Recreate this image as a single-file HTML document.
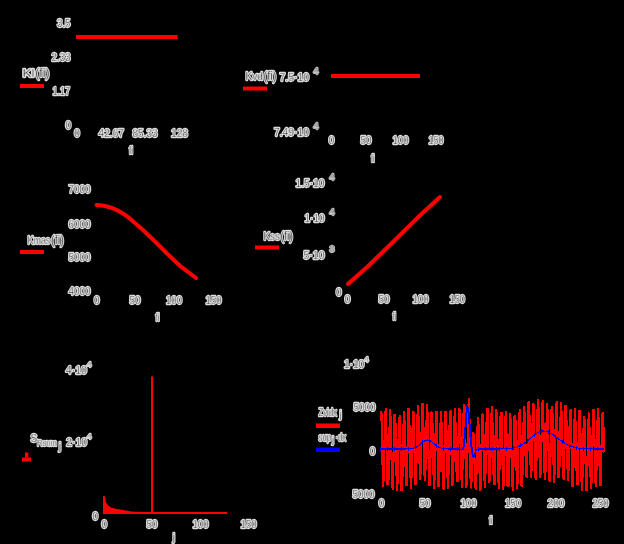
<!DOCTYPE html>
<html><head><meta charset="utf-8"><title>plots</title>
<style>
html,body{margin:0;padding:0;background:#000;}
body{width:624px;height:544px;overflow:hidden;position:relative;font-family:"Liberation Sans",sans-serif;}
svg{position:absolute;left:0;top:0;display:block}
g.tx{filter:grayscale(1)}
text{font-family:"Liberation Sans",sans-serif}
g.ha text{fill:#dcdcdc;stroke:#dcdcdc;stroke-width:2.3px;stroke-linejoin:round}
g.fg text{fill:#000;stroke:#dcdcdc;stroke-width:0.4px}
.r{stroke:#f00;fill:none}
.b{stroke:#00f;fill:none}
</style></head><body>
<svg width="624" height="544" viewBox="0 0 624 544">
<rect width="624" height="544" fill="#000"/>
<rect x="20" y="84" width="24" height="4" fill="#f00"/>
<rect x="76" y="35" width="101.5" height="4" fill="#f00"/>
<rect x="243" y="86.5" width="24" height="4" fill="#f00"/>
<rect x="331" y="74" width="89" height="4" fill="#f00"/>
<rect x="20" y="250" width="24" height="4" fill="#f00"/>
<path class="r" d="M96.5,205 L100,205.2 L105,206 L111,207.6 L117.5,210.3 L124,214.2 L130,218.7 L142.5,229.5 L155,241.5 L167.5,254 L180,265.8 L196,278" stroke-width="4.0" stroke-linecap="round" stroke-linejoin="round"/>
<rect x="255" y="245.5" width="24" height="4" fill="#f00"/>
<path class="r" d="M348,284 L357,276 L367.5,266.8 L394,241 L417.5,217.8 L440,197" stroke-width="4.0" stroke-linecap="round" stroke-linejoin="round"/>
<rect x="22" y="457.5" width="9" height="4" fill="#f00"/>
<rect x="25" y="452.5" width="3.4" height="5" fill="#f00"/>
<rect x="151" y="376.5" width="2" height="137.5" fill="#f00"/>
<rect x="103" y="512" width="124" height="2" fill="#f00"/>
<path fill="#f00" d="M103,513 L103,496 L104.9,496 L105.4,500 L106.2,502.8 L108.7,506 L112,508 L118.4,509.3 L126,510.6 L131,511.6 L150,512.3 L150,513 Z"/>
<rect x="316" y="423.5" width="24" height="4.5" fill="#f00"/>
<rect x="316" y="447.5" width="24" height="4.5" fill="#00f"/>
<path class="r" d="M380.5,414.09 L381.38,410.76 L382.25,452.3 L383.13,486.55 L384.01,471.25 L384.88,424.87 L385.76,407.57 L386.64,440.91 L387.51,484.68 L388.39,483.01 L389.26,438.13 L390.14,408.57 L391.02,429.45 L391.89,476.82 L392.77,490.17 L393.65,453.56 L394.52,413.85 L395.4,421.36 L396.28,466.69 L397.15,491.3 L398.03,467.69 L398.91,422.93 L399.78,414.87 L400.66,453.81 L401.54,490.57 L402.41,478.34 L403.29,431.91 L404.16,410.58 L405.04,438.99 L405.92,483.56 L406.79,485.93 L407.67,442.08 L408.55,407.73 L409.42,424.67 L410.3,472.04 L411.18,488.51 L412.05,454.42 L412.93,411.33 L413.81,413.64 L414.68,457.45 L415.56,485.01 L416.44,463.64 L417.31,417.62 L418.19,405.24 L419.06,440.97 L419.94,479.77 L420.82,472.17 L421.69,427.12 L422.57,402.94 L423.45,427.74 L424.32,473.68 L425.2,481.3 L426.08,440.9 L426.95,403.91 L427.83,417.61 L428.71,465.36 L429.58,486.21 L430.46,456.81 L431.34,412.97 L432.21,411.97 L433.09,455.53 L433.96,488.7 L434.84,472.04 L435.72,426.13 L436.59,410.81 L437.47,445.12 L438.35,486.89 L439.22,483.66 L440.1,439.31 L440.98,410.82 L441.85,431.85 L442.73,478.28 L443.61,489.66 L444.48,451.02 L445.36,410.65 L446.24,419.15 L447.11,465.18 L447.99,488.58 L448.86,462.35 L449.74,416.79 L450.62,410.53 L451.49,450.59 L452.37,485.82 L453.25,471.84 L454.12,426.49 L455.0,407.8 L455.88,437.01 L456.75,479.97 L457.63,481.52 L458.51,439.61 L459.38,408.28 L460.26,426.12 L461.14,472.28 L462.01,487.5 L462.89,451.16 L463.76,404.61 L464.64,406.37 L465.52,456.35 L466.39,487.5 L467.27,462.46 L468.15,410.03 L469.02,398.06 L469.9,443.01 L470.78,488.43 L471.65,479.27 L472.53,442.39 L473.41,431.96 L474.28,452.32 L475.16,485.7 L476.04,489.82 L476.91,457.53 L477.79,416.61 L478.66,426.75 L479.54,472.26 L480.42,490.72 L481.29,459.11 L482.17,414.57 L483.05,413.82 L483.92,457.15 L484.8,488.03 L485.68,469.03 L486.55,422.51 L487.43,407.8 L488.31,442.62 L489.18,482.84 L490.06,477.41 L490.94,432.71 L491.81,405.89 L492.69,428.77 L493.56,475.08 L494.44,485.16 L495.32,446.94 L496.19,408.84 L497.07,419.47 L497.95,466.29 L498.82,489.33 L499.7,461.86 L500.58,416.03 L501.45,411.83 L502.33,454.47 L503.21,490.24 L504.08,475.1 L504.96,428.58 L505.84,410.95 L506.71,442.89 L507.59,485.97 L508.46,485.45 L509.34,442.74 L510.22,413.5 L511.09,431.89 L511.97,477.1 L512.85,490.79 L513.72,455.21 L514.6,415.11 L515.48,420.4 L516.35,464.11 L517.23,489.25 L518.11,465.78 L518.98,419.31 L519.86,409.51 L520.74,448.92 L521.61,486.71 L522.49,474.54 L523.36,427.63 L524.24,405.76 L525.12,432.26 L525.99,475.34 L526.87,478.13 L527.75,436.02 L528.62,401.42 L529.5,416.32 L530.38,461.19 L531.25,478.4 L532.13,446.45 L533.01,403.51 L533.88,404.98 L534.76,449.27 L535.64,479.48 L536.51,459.58 L537.39,412.34 L538.26,398.99 L539.14,436.63 L540.02,478.11 L540.89,471.38 L541.77,425.34 L542.65,400.26 L543.52,425.09 L544.4,471.46 L545.28,479.87 L546.15,440.55 L547.03,403.24 L547.91,415.16 L548.78,461.41 L549.66,482.34 L550.54,453.96 L551.41,409.45 L552.29,406.35 L553.16,448.69 L554.04,482.5 L554.92,465.88 L555.79,418.57 L556.67,401.5 L557.55,434.96 L558.42,477.67 L559.3,475.04 L560.18,430.59 L561.05,401.79 L561.93,422.19 L562.81,467.89 L563.68,480.23 L564.56,443.9 L565.44,405.33 L566.31,413.36 L567.19,457.76 L568.06,481.4 L568.94,458.26 L569.82,415.52 L570.69,408.84 L571.57,448.78 L572.45,486.61 L573.32,474.49 L574.2,428.24 L575.08,408.13 L575.95,437.8 L576.83,482.73 L577.71,485.29 L578.58,442.61 L579.46,409.84 L580.34,427.6 L581.21,474.97 L582.09,491.3 L582.96,457.72 L583.84,416.34 L584.72,419.92 L585.59,463.71 L586.47,491.19 L587.35,470.43 L588.22,424.6 L589.1,412.57 L589.98,449.6 L590.85,488.87 L591.73,480.27 L592.61,433.81 L593.48,409.2 L594.36,434.64 L595.24,480.6 L596.11,486.66 L596.99,445.01 L597.86,408.07 L598.74,421.59 L599.62,467.25 L600.49,485.63 L601.37,455.94 L602.25,413.71 L603.12,412.45 L604.0,452.51" stroke-width="2.15" stroke-linejoin="miter" stroke-miterlimit="1" shape-rendering="crispEdges"/>
<clipPath id="cb"><polygon points="378,434.5 380,434.5 382,434.7 384,435.5 386,436.2 388,436.5 390,437.2 392,438.2 394,439.2 396,440.1 398,440.9 400,440.4 402,439.8 404,439.0 406,437.8 408,436.7 410,436.3 412,435.7 414,434.9 416,433.5 418,431.9 420,431.2 422,430.9 424,431.0 426,431.6 428,432.6 430,433.7 432,435.4 434,437.0 436,438.4 438,439.6 440,439.5 442,438.6 444,437.9 446,437.1 448,436.2 450,435.8 452,435.4 454,435.0 456,435.1 458,435.7 460,436.2 462,435.5 464,430.7 466,428.4 468,428.6 470,430.3 472,440.4 474,453.4 476,455.1 478,441.0 480,438.7 482,437.4 484,436.2 486,435.8 488,435.5 490,434.6 492,434.0 494,434.7 496,435.7 498,436.3 500,436.6 502,437.3 504,438.2 506,439.1 508,440.0 510,440.8 512,440.5 514,439.9 516,438.9 518,437.5 520,436.2 522,435.1 524,433.7 526,431.7 528,429.7 530,428.0 532,427.1 534,426.9 536,427.0 538,427.3 540,427.8 542,428.4 544,429.5 546,430.5 548,430.5 550,430.6 552,430.5 554,430.2 556,430.0 558,429.9 560,429.8 562,429.8 564,430.0 566,430.9 568,432.0 570,433.4 572,435.0 574,436.1 576,436.7 578,437.5 580,438.6 582,439.5 584,440.2 586,440.9 588,440.1 590,439.3 592,438.4 594,437.6 596,436.5 598,436.0 600,435.4 602,434.6 604,434.1 606,434.1 606,456.2 604,456.2 602,457.2 600,458.6 598,459.8 596,460.7 594,461.7 592,462.3 590,462.9 588,463.4 586,463.9 584,463.5 582,463.2 580,462.6 578,461.5 576,460.7 574,459.9 572,458.5 570,456.2 568,454.6 566,453.8 564,453.2 562,453.2 560,453.5 558,453.9 556,454.0 554,454.1 552,454.2 550,454.3 548,454.2 546,454.0 544,453.3 542,452.5 540,452.0 538,451.4 536,451.0 534,450.7 532,450.6 530,451.1 528,453.0 526,455.1 524,457.2 522,459.0 520,460.2 518,461.1 516,462.1 514,463.0 512,463.5 510,463.8 508,463.4 506,462.8 504,462.1 502,461.4 500,460.8 498,460.3 496,459.4 494,458.4 492,457.7 490,457.9 488,458.8 486,459.3 484,460.1 482,461.4 480,462.6 478,464.2 476,471.9 474,470.9 472,463.7 470,457.3 468,455.5 466,455.4 464,456.7 462,459.3 460,459.7 458,459.1 456,458.1 454,457.8 452,458.6 450,459.5 448,460.2 446,461.1 444,461.9 442,462.5 440,463.1 438,462.9 436,461.9 434,460.6 432,459.2 430,457.8 428,456.7 426,455.7 424,454.8 422,454.4 420,454.3 418,454.7 416,456.8 414,458.7 412,459.7 410,460.5 408,461.0 406,461.9 404,462.8 402,463.3 400,463.6 398,463.9 396,463.5 394,462.8 392,462.1 390,461.3 388,460.8 386,460.2 384,459.1 382,458.0 380,457.8 378,457.8"/></clipPath>
<path class="b" d="M380.5,449.0 L381.38,449.0 L382.25,449.0 L383.13,449.0 L384.01,449.0 L384.88,449.0 L385.76,449.0 L386.64,449.0 L387.51,449.0 L388.39,449.0 L389.26,449.0 L390.14,449.0 L391.02,449.0 L391.89,449.0 L392.77,449.0 L393.65,449.0 L394.52,449.0 L395.4,449.0 L396.28,449.0 L397.15,449.0 L398.03,449.0 L398.91,449.0 L399.78,449.0 L400.66,449.0 L401.54,449.0 L402.41,449.0 L403.29,448.99 L404.16,448.99 L405.04,448.98 L405.92,448.97 L406.79,448.95 L407.67,448.93 L408.55,448.89 L409.42,448.84 L410.3,448.77 L411.18,448.66 L412.05,448.53 L412.93,448.35 L413.81,448.11 L414.68,447.82 L415.56,447.45 L416.44,447.01 L417.31,446.5 L418.19,445.91 L419.06,445.26 L419.94,444.55 L420.82,443.81 L421.69,443.06 L422.57,442.33 L423.45,441.65 L424.32,441.05 L425.2,440.57 L426.08,440.22 L426.95,440.03 L427.83,440.01 L428.71,440.16 L429.58,440.47 L430.46,440.92 L431.34,441.49 L432.21,442.16 L433.09,442.88 L433.96,443.63 L434.84,444.37 L435.72,445.09 L436.59,445.76 L437.47,446.36 L438.35,446.89 L439.22,447.35 L440.1,447.73 L440.98,448.04 L441.85,448.29 L442.73,448.49 L443.61,448.63 L444.48,448.74 L445.36,448.82 L446.24,448.88 L447.11,448.92 L447.99,448.95 L448.86,448.97 L449.74,448.98 L450.62,448.99 L451.49,448.99 L452.37,449.0 L453.25,449.0 L454.12,449.0 L455.0,449.0 L455.88,449.0 L456.75,449.0 L457.63,449.0 L458.51,449.0 L459.38,449.0 L460.26,449.06 L461.14,449.34 L462.01,449.87 L462.89,449.38 L463.76,445.66 L464.64,437.83 L465.52,426.48 L466.39,414.33 L467.27,406.69 L468.15,407.87 L469.02,417.19 L469.9,429.65 L470.78,440.59 L471.65,448.62 L472.53,454.14 L473.41,456.69 L474.28,455.81 L475.16,453.01 L476.04,450.6 L476.91,449.44 L477.79,449.08 L478.66,449.01 L479.54,449.0 L480.42,449.0 L481.29,449.0 L482.17,449.0 L483.05,449.0 L483.92,449.0 L484.8,449.0 L485.68,449.0 L486.55,449.0 L487.43,449.0 L488.31,449.0 L489.18,449.0 L490.06,449.0 L490.94,449.0 L491.81,449.0 L492.69,449.0 L493.56,448.99 L494.44,448.99 L495.32,448.99 L496.19,448.99 L497.07,448.98 L497.95,448.98 L498.82,448.97 L499.7,448.96 L500.58,448.95 L501.45,448.94 L502.33,448.92 L503.21,448.9 L504.08,448.87 L504.96,448.84 L505.84,448.8 L506.71,448.76 L507.59,448.7 L508.46,448.63 L509.34,448.55 L510.22,448.46 L511.09,448.35 L511.97,448.22 L512.85,448.08 L513.72,447.9 L514.6,447.71 L515.48,447.48 L516.35,447.23 L517.23,446.94 L518.11,446.62 L518.98,446.26 L519.86,445.87 L520.74,445.43 L521.61,444.96 L522.49,444.44 L523.36,443.89 L524.24,443.3 L525.12,442.66 L525.99,442.0 L526.87,441.3 L527.75,440.58 L528.62,439.83 L529.5,439.07 L530.38,438.3 L531.25,437.53 L532.13,436.76 L533.01,436.01 L533.88,435.28 L534.76,434.58 L535.64,433.92 L536.51,433.31 L537.39,432.76 L538.26,432.27 L539.14,431.85 L540.02,431.52 L540.89,431.26 L541.77,431.09 L542.65,431.01 L543.52,431.01 L544.4,431.08 L545.28,431.22 L546.15,431.42 L547.03,431.68 L547.91,432.0 L548.78,432.38 L549.66,432.8 L550.54,433.27 L551.41,433.79 L552.29,434.34 L553.16,434.92 L554.04,435.53 L554.92,436.16 L555.79,436.81 L556.67,437.46 L557.55,438.12 L558.42,438.78 L559.3,439.43 L560.18,440.08 L561.05,440.71 L561.93,441.33 L562.81,441.92 L563.68,442.5 L564.56,443.04 L565.44,443.57 L566.31,444.06 L567.19,444.53 L568.06,444.96 L568.94,445.37 L569.82,445.75 L570.69,446.1 L571.57,446.42 L572.45,446.71 L573.32,446.98 L574.2,447.22 L575.08,447.44 L575.95,447.64 L576.83,447.82 L577.71,447.98 L578.58,448.12 L579.46,448.24 L580.34,448.35 L581.21,448.44 L582.09,448.53 L582.96,448.6 L583.84,448.66 L584.72,448.71 L585.59,448.76 L586.47,448.8 L587.35,448.83 L588.22,448.86 L589.1,448.89 L589.98,448.91 L590.85,448.92 L591.73,448.94 L592.61,448.95 L593.48,448.96 L594.36,448.97 L595.24,448.97 L596.11,448.98 L596.99,448.98 L597.86,448.99 L598.74,448.99 L599.62,448.99 L600.49,448.99 L601.37,448.99 L602.25,449.0 L603.12,449.0 L604.0,449.0" stroke-width="1.1" shape-rendering="crispEdges"/>
<path class="b" d="M462.89,449.38 L463.76,445.66 L464.64,437.83 L465.52,426.48 L466.39,414.33 L467.27,406.69 L468.15,407.87 L469.02,417.19 L469.9,429.65 L470.78,440.59 L471.65,448.62 L472.53,454.14 L473.41,456.69 L474.28,455.81 L475.16,453.01" stroke-width="2.0" shape-rendering="crispEdges"/>
<rect x="380.00" y="447.00" width="1" height="4" fill="#00f" shape-rendering="crispEdges"/>
<rect x="387.01" y="447.00" width="1" height="4" fill="#00f" shape-rendering="crispEdges"/>
<rect x="394.02" y="447.00" width="1" height="4" fill="#00f" shape-rendering="crispEdges"/>
<rect x="401.04" y="447.00" width="1" height="4" fill="#00f" shape-rendering="crispEdges"/>
<rect x="408.05" y="446.89" width="1" height="4" fill="#00f" shape-rendering="crispEdges"/>
<rect x="415.06" y="445.45" width="1" height="4" fill="#00f" shape-rendering="crispEdges"/>
<rect x="422.07" y="440.33" width="1" height="4" fill="#00f" shape-rendering="crispEdges"/>
<rect x="429.08" y="438.47" width="1" height="4" fill="#00f" shape-rendering="crispEdges"/>
<rect x="436.09" y="443.76" width="1" height="4" fill="#00f" shape-rendering="crispEdges"/>
<rect x="443.11" y="446.63" width="1" height="4" fill="#00f" shape-rendering="crispEdges"/>
<rect x="450.12" y="446.99" width="1" height="4" fill="#00f" shape-rendering="crispEdges"/>
<rect x="457.13" y="447.00" width="1" height="4" fill="#00f" shape-rendering="crispEdges"/>
<rect x="464.14" y="435.83" width="1" height="4" fill="#00f" shape-rendering="crispEdges"/>
<rect x="471.15" y="446.62" width="1" height="4" fill="#00f" shape-rendering="crispEdges"/>
<rect x="478.16" y="447.01" width="1" height="4" fill="#00f" shape-rendering="crispEdges"/>
<rect x="485.18" y="447.00" width="1" height="4" fill="#00f" shape-rendering="crispEdges"/>
<rect x="492.19" y="447.00" width="1" height="4" fill="#00f" shape-rendering="crispEdges"/>
<rect x="499.20" y="446.96" width="1" height="4" fill="#00f" shape-rendering="crispEdges"/>
<rect x="506.21" y="446.76" width="1" height="4" fill="#00f" shape-rendering="crispEdges"/>
<rect x="513.22" y="445.90" width="1" height="4" fill="#00f" shape-rendering="crispEdges"/>
<rect x="520.24" y="443.43" width="1" height="4" fill="#00f" shape-rendering="crispEdges"/>
<rect x="527.25" y="438.58" width="1" height="4" fill="#00f" shape-rendering="crispEdges"/>
<rect x="534.26" y="432.58" width="1" height="4" fill="#00f" shape-rendering="crispEdges"/>
<rect x="541.27" y="429.09" width="1" height="4" fill="#00f" shape-rendering="crispEdges"/>
<rect x="548.28" y="430.38" width="1" height="4" fill="#00f" shape-rendering="crispEdges"/>
<rect x="555.29" y="434.81" width="1" height="4" fill="#00f" shape-rendering="crispEdges"/>
<rect x="562.31" y="439.92" width="1" height="4" fill="#00f" shape-rendering="crispEdges"/>
<rect x="569.32" y="443.75" width="1" height="4" fill="#00f" shape-rendering="crispEdges"/>
<rect x="576.33" y="445.82" width="1" height="4" fill="#00f" shape-rendering="crispEdges"/>
<rect x="583.34" y="446.66" width="1" height="4" fill="#00f" shape-rendering="crispEdges"/>
<rect x="590.35" y="446.92" width="1" height="4" fill="#00f" shape-rendering="crispEdges"/>
<rect x="597.36" y="446.99" width="1" height="4" fill="#00f" shape-rendering="crispEdges"/>
<g class="tx ha">
<text x="57.00" y="27" font-size="10" textLength="13.50" lengthAdjust="spacingAndGlyphs">3.5</text>
<text x="51.50" y="60.5" font-size="10" textLength="19.00" lengthAdjust="spacingAndGlyphs">2.33</text>
<text x="52.50" y="94.5" font-size="10" textLength="17.50" lengthAdjust="spacingAndGlyphs">1.17</text>
<text x="68.25" y="128.5" font-size="10" text-anchor="middle">0</text>
<text x="22.50" y="77" font-size="10.5" textLength="12.00" lengthAdjust="spacingAndGlyphs">Kl</text>
<text x="35.20" y="77" font-size="13" textLength="14.30" lengthAdjust="spacingAndGlyphs">(fi)</text>
<text x="77.00" y="136.5" font-size="10" text-anchor="middle">0</text>
<text x="98.50" y="136.5" font-size="10" textLength="25.50" lengthAdjust="spacingAndGlyphs">42.67</text>
<text x="132.50" y="136.5" font-size="10" textLength="25.00" lengthAdjust="spacingAndGlyphs">85.33</text>
<text x="171.00" y="136.5" font-size="10" textLength="17.00" lengthAdjust="spacingAndGlyphs">128</text>
<text x="129.00" y="153.5" font-size="10" textLength="4.00" lengthAdjust="spacingAndGlyphs">fi</text>
<text x="245.50" y="80" font-size="10.5" textLength="17.50" lengthAdjust="spacingAndGlyphs">Kvd</text>
<text x="263.50" y="80" font-size="13" textLength="13.00" lengthAdjust="spacingAndGlyphs">(fi)</text>
<text x="279.50" y="80.5" font-size="10" textLength="29.50" lengthAdjust="spacingAndGlyphs">7.5·10</text>
<text x="316.00" y="73.5" font-size="9" text-anchor="middle" opacity=".8">4</text>
<text x="274.00" y="135.5" font-size="10" textLength="35.00" lengthAdjust="spacingAndGlyphs">7.49·10</text>
<text x="316.00" y="129" font-size="9" text-anchor="middle" opacity=".8">4</text>
<text x="331.50" y="144" font-size="10" text-anchor="middle">0</text>
<text x="360.50" y="144" font-size="10" textLength="11.00" lengthAdjust="spacingAndGlyphs">50</text>
<text x="392.50" y="144" font-size="10" textLength="16.00" lengthAdjust="spacingAndGlyphs">100</text>
<text x="428.50" y="144" font-size="10" textLength="15.00" lengthAdjust="spacingAndGlyphs">150</text>
<text x="371.00" y="161.5" font-size="10" textLength="3.50" lengthAdjust="spacingAndGlyphs">fi</text>
<text x="68.50" y="193" font-size="10" textLength="22.00" lengthAdjust="spacingAndGlyphs">7000</text>
<text x="68.50" y="227.5" font-size="10" textLength="22.00" lengthAdjust="spacingAndGlyphs">6000</text>
<text x="68.50" y="260.5" font-size="10" textLength="22.00" lengthAdjust="spacingAndGlyphs">5000</text>
<text x="68.50" y="295" font-size="10" textLength="22.00" lengthAdjust="spacingAndGlyphs">4000</text>
<text x="27.50" y="244" font-size="10" textLength="22.80" lengthAdjust="spacingAndGlyphs">Kmas</text>
<text x="51.00" y="244" font-size="13" textLength="13.00" lengthAdjust="spacingAndGlyphs">(fi)</text>
<text x="96.75" y="303.5" font-size="10" text-anchor="middle">0</text>
<text x="129.50" y="303.5" font-size="10" textLength="11.00" lengthAdjust="spacingAndGlyphs">50</text>
<text x="166.00" y="303.5" font-size="10" textLength="16.00" lengthAdjust="spacingAndGlyphs">100</text>
<text x="205.50" y="303.5" font-size="10" textLength="16.00" lengthAdjust="spacingAndGlyphs">150</text>
<text x="155.50" y="321" font-size="10" textLength="4.00" lengthAdjust="spacingAndGlyphs">fi</text>
<text x="295.50" y="187" font-size="10" textLength="29.00" lengthAdjust="spacingAndGlyphs">1.5·10</text>
<text x="332.00" y="180" font-size="9" text-anchor="middle" opacity=".8">4</text>
<text x="304.50" y="222" font-size="10" textLength="20.00" lengthAdjust="spacingAndGlyphs">1·10</text>
<text x="332.00" y="215" font-size="9" text-anchor="middle" opacity=".8">4</text>
<text x="303.50" y="259" font-size="10" textLength="21.00" lengthAdjust="spacingAndGlyphs">5·10</text>
<text x="332.00" y="251.5" font-size="9" text-anchor="middle" opacity=".8">3</text>
<text x="263.50" y="239.5" font-size="10.5" textLength="16.30" lengthAdjust="spacingAndGlyphs">Kss</text>
<text x="280.50" y="239.5" font-size="13" textLength="12.50" lengthAdjust="spacingAndGlyphs">(fi)</text>
<text x="338.75" y="295.5" font-size="10" text-anchor="middle">0</text>
<text x="347.50" y="303" font-size="10" text-anchor="middle">0</text>
<text x="378.50" y="303" font-size="10" textLength="11.00" lengthAdjust="spacingAndGlyphs">50</text>
<text x="412.50" y="303" font-size="10" textLength="16.00" lengthAdjust="spacingAndGlyphs">100</text>
<text x="449.50" y="303" font-size="10" textLength="15.50" lengthAdjust="spacingAndGlyphs">150</text>
<text x="392.50" y="320" font-size="10" textLength="3.50" lengthAdjust="spacingAndGlyphs">fi</text>
<text x="65.80" y="373.5" font-size="10" textLength="21.20" lengthAdjust="spacingAndGlyphs">4·10</text>
<text x="89.25" y="367" font-size="8" text-anchor="middle">4</text>
<text x="33.90" y="442" font-size="10" text-anchor="middle">S</text>
<text x="37.00" y="446" font-size="9" textLength="20.00" lengthAdjust="spacingAndGlyphs">Rsum</text>
<text x="59.95" y="449.5" font-size="11" text-anchor="middle">j</text>
<text x="66.20" y="446" font-size="10" textLength="20.80" lengthAdjust="spacingAndGlyphs">2·10</text>
<text x="89.25" y="439" font-size="8" text-anchor="middle">4</text>
<text x="95.25" y="519.5" font-size="10" text-anchor="middle">0</text>
<text x="104.25" y="528" font-size="10" text-anchor="middle">0</text>
<text x="146.50" y="528" font-size="10" textLength="11.00" lengthAdjust="spacingAndGlyphs">50</text>
<text x="192.50" y="528" font-size="10" textLength="16.00" lengthAdjust="spacingAndGlyphs">100</text>
<text x="240.50" y="528" font-size="10" textLength="16.00" lengthAdjust="spacingAndGlyphs">150</text>
<text x="173.75" y="541" font-size="10" text-anchor="middle">j</text>
<text x="343.90" y="368" font-size="10" textLength="20.40" lengthAdjust="spacingAndGlyphs">1·10</text>
<text x="366.60" y="361.5" font-size="8" text-anchor="middle">4</text>
<text x="353.50" y="411" font-size="10" textLength="22.00" lengthAdjust="spacingAndGlyphs">5000</text>
<text x="372.50" y="454.5" font-size="10" text-anchor="middle">0</text>
<text x="352.50" y="498" font-size="10" textLength="22.00" lengthAdjust="spacingAndGlyphs">5000</text>
<text x="318.50" y="416" font-size="10" textLength="18.50" lengthAdjust="spacingAndGlyphs">Zvidx</text>
<text x="340.55" y="417.5" font-size="10" text-anchor="middle">j</text>
<text x="318.50" y="441" font-size="10" textLength="12.50" lengthAdjust="spacingAndGlyphs">sup</text>
<text x="333.00" y="442.5" font-size="9" text-anchor="middle">j</text>
<text x="335.50" y="441" font-size="10" textLength="10.50" lengthAdjust="spacingAndGlyphs">·dx</text>
<text x="381.50" y="506.5" font-size="10" text-anchor="middle">0</text>
<text x="419.50" y="506.5" font-size="10" textLength="11.00" lengthAdjust="spacingAndGlyphs">50</text>
<text x="460.50" y="506.5" font-size="10" textLength="16.00" lengthAdjust="spacingAndGlyphs">100</text>
<text x="505.00" y="506.5" font-size="10" textLength="16.00" lengthAdjust="spacingAndGlyphs">150</text>
<text x="547.50" y="506.5" font-size="10" textLength="17.00" lengthAdjust="spacingAndGlyphs">200</text>
<text x="592.50" y="506.5" font-size="10" textLength="16.00" lengthAdjust="spacingAndGlyphs">250</text>
<text x="489.00" y="524" font-size="10" textLength="3.50" lengthAdjust="spacingAndGlyphs">fi</text>
</g>
<g class="tx fg">
<text x="57.00" y="27" font-size="10" textLength="13.50" lengthAdjust="spacingAndGlyphs">3.5</text>
<text x="51.50" y="60.5" font-size="10" textLength="19.00" lengthAdjust="spacingAndGlyphs">2.33</text>
<text x="52.50" y="94.5" font-size="10" textLength="17.50" lengthAdjust="spacingAndGlyphs">1.17</text>
<text x="68.25" y="128.5" font-size="10" text-anchor="middle">0</text>
<text x="22.50" y="77" font-size="10.5" textLength="12.00" lengthAdjust="spacingAndGlyphs">Kl</text>
<text x="35.20" y="77" font-size="13" textLength="14.30" lengthAdjust="spacingAndGlyphs">(fi)</text>
<text x="77.00" y="136.5" font-size="10" text-anchor="middle">0</text>
<text x="98.50" y="136.5" font-size="10" textLength="25.50" lengthAdjust="spacingAndGlyphs">42.67</text>
<text x="132.50" y="136.5" font-size="10" textLength="25.00" lengthAdjust="spacingAndGlyphs">85.33</text>
<text x="171.00" y="136.5" font-size="10" textLength="17.00" lengthAdjust="spacingAndGlyphs">128</text>
<text x="129.00" y="153.5" font-size="10" textLength="4.00" lengthAdjust="spacingAndGlyphs">fi</text>
<text x="245.50" y="80" font-size="10.5" textLength="17.50" lengthAdjust="spacingAndGlyphs">Kvd</text>
<text x="263.50" y="80" font-size="13" textLength="13.00" lengthAdjust="spacingAndGlyphs">(fi)</text>
<text x="279.50" y="80.5" font-size="10" textLength="29.50" lengthAdjust="spacingAndGlyphs">7.5·10</text>
<text x="316.00" y="73.5" font-size="9" text-anchor="middle" opacity=".8">4</text>
<text x="274.00" y="135.5" font-size="10" textLength="35.00" lengthAdjust="spacingAndGlyphs">7.49·10</text>
<text x="316.00" y="129" font-size="9" text-anchor="middle" opacity=".8">4</text>
<text x="331.50" y="144" font-size="10" text-anchor="middle">0</text>
<text x="360.50" y="144" font-size="10" textLength="11.00" lengthAdjust="spacingAndGlyphs">50</text>
<text x="392.50" y="144" font-size="10" textLength="16.00" lengthAdjust="spacingAndGlyphs">100</text>
<text x="428.50" y="144" font-size="10" textLength="15.00" lengthAdjust="spacingAndGlyphs">150</text>
<text x="371.00" y="161.5" font-size="10" textLength="3.50" lengthAdjust="spacingAndGlyphs">fi</text>
<text x="68.50" y="193" font-size="10" textLength="22.00" lengthAdjust="spacingAndGlyphs">7000</text>
<text x="68.50" y="227.5" font-size="10" textLength="22.00" lengthAdjust="spacingAndGlyphs">6000</text>
<text x="68.50" y="260.5" font-size="10" textLength="22.00" lengthAdjust="spacingAndGlyphs">5000</text>
<text x="68.50" y="295" font-size="10" textLength="22.00" lengthAdjust="spacingAndGlyphs">4000</text>
<text x="27.50" y="244" font-size="10" textLength="22.80" lengthAdjust="spacingAndGlyphs">Kmas</text>
<text x="51.00" y="244" font-size="13" textLength="13.00" lengthAdjust="spacingAndGlyphs">(fi)</text>
<text x="96.75" y="303.5" font-size="10" text-anchor="middle">0</text>
<text x="129.50" y="303.5" font-size="10" textLength="11.00" lengthAdjust="spacingAndGlyphs">50</text>
<text x="166.00" y="303.5" font-size="10" textLength="16.00" lengthAdjust="spacingAndGlyphs">100</text>
<text x="205.50" y="303.5" font-size="10" textLength="16.00" lengthAdjust="spacingAndGlyphs">150</text>
<text x="155.50" y="321" font-size="10" textLength="4.00" lengthAdjust="spacingAndGlyphs">fi</text>
<text x="295.50" y="187" font-size="10" textLength="29.00" lengthAdjust="spacingAndGlyphs">1.5·10</text>
<text x="332.00" y="180" font-size="9" text-anchor="middle" opacity=".8">4</text>
<text x="304.50" y="222" font-size="10" textLength="20.00" lengthAdjust="spacingAndGlyphs">1·10</text>
<text x="332.00" y="215" font-size="9" text-anchor="middle" opacity=".8">4</text>
<text x="303.50" y="259" font-size="10" textLength="21.00" lengthAdjust="spacingAndGlyphs">5·10</text>
<text x="332.00" y="251.5" font-size="9" text-anchor="middle" opacity=".8">3</text>
<text x="263.50" y="239.5" font-size="10.5" textLength="16.30" lengthAdjust="spacingAndGlyphs">Kss</text>
<text x="280.50" y="239.5" font-size="13" textLength="12.50" lengthAdjust="spacingAndGlyphs">(fi)</text>
<text x="338.75" y="295.5" font-size="10" text-anchor="middle">0</text>
<text x="347.50" y="303" font-size="10" text-anchor="middle">0</text>
<text x="378.50" y="303" font-size="10" textLength="11.00" lengthAdjust="spacingAndGlyphs">50</text>
<text x="412.50" y="303" font-size="10" textLength="16.00" lengthAdjust="spacingAndGlyphs">100</text>
<text x="449.50" y="303" font-size="10" textLength="15.50" lengthAdjust="spacingAndGlyphs">150</text>
<text x="392.50" y="320" font-size="10" textLength="3.50" lengthAdjust="spacingAndGlyphs">fi</text>
<text x="65.80" y="373.5" font-size="10" textLength="21.20" lengthAdjust="spacingAndGlyphs">4·10</text>
<text x="89.25" y="367" font-size="8" text-anchor="middle">4</text>
<text x="33.90" y="442" font-size="10" text-anchor="middle">S</text>
<text x="37.00" y="446" font-size="9" textLength="20.00" lengthAdjust="spacingAndGlyphs">Rsum</text>
<text x="59.95" y="449.5" font-size="11" text-anchor="middle">j</text>
<text x="66.20" y="446" font-size="10" textLength="20.80" lengthAdjust="spacingAndGlyphs">2·10</text>
<text x="89.25" y="439" font-size="8" text-anchor="middle">4</text>
<text x="95.25" y="519.5" font-size="10" text-anchor="middle">0</text>
<text x="104.25" y="528" font-size="10" text-anchor="middle">0</text>
<text x="146.50" y="528" font-size="10" textLength="11.00" lengthAdjust="spacingAndGlyphs">50</text>
<text x="192.50" y="528" font-size="10" textLength="16.00" lengthAdjust="spacingAndGlyphs">100</text>
<text x="240.50" y="528" font-size="10" textLength="16.00" lengthAdjust="spacingAndGlyphs">150</text>
<text x="173.75" y="541" font-size="10" text-anchor="middle">j</text>
<text x="343.90" y="368" font-size="10" textLength="20.40" lengthAdjust="spacingAndGlyphs">1·10</text>
<text x="366.60" y="361.5" font-size="8" text-anchor="middle">4</text>
<text x="353.50" y="411" font-size="10" textLength="22.00" lengthAdjust="spacingAndGlyphs">5000</text>
<text x="372.50" y="454.5" font-size="10" text-anchor="middle">0</text>
<text x="352.50" y="498" font-size="10" textLength="22.00" lengthAdjust="spacingAndGlyphs">5000</text>
<text x="318.50" y="416" font-size="10" textLength="18.50" lengthAdjust="spacingAndGlyphs">Zvidx</text>
<text x="340.55" y="417.5" font-size="10" text-anchor="middle">j</text>
<text x="318.50" y="441" font-size="10" textLength="12.50" lengthAdjust="spacingAndGlyphs">sup</text>
<text x="333.00" y="442.5" font-size="9" text-anchor="middle">j</text>
<text x="335.50" y="441" font-size="10" textLength="10.50" lengthAdjust="spacingAndGlyphs">·dx</text>
<text x="381.50" y="506.5" font-size="10" text-anchor="middle">0</text>
<text x="419.50" y="506.5" font-size="10" textLength="11.00" lengthAdjust="spacingAndGlyphs">50</text>
<text x="460.50" y="506.5" font-size="10" textLength="16.00" lengthAdjust="spacingAndGlyphs">100</text>
<text x="505.00" y="506.5" font-size="10" textLength="16.00" lengthAdjust="spacingAndGlyphs">150</text>
<text x="547.50" y="506.5" font-size="10" textLength="17.00" lengthAdjust="spacingAndGlyphs">200</text>
<text x="592.50" y="506.5" font-size="10" textLength="16.00" lengthAdjust="spacingAndGlyphs">250</text>
<text x="489.00" y="524" font-size="10" textLength="3.50" lengthAdjust="spacingAndGlyphs">fi</text>
</g>
</svg></body></html>
